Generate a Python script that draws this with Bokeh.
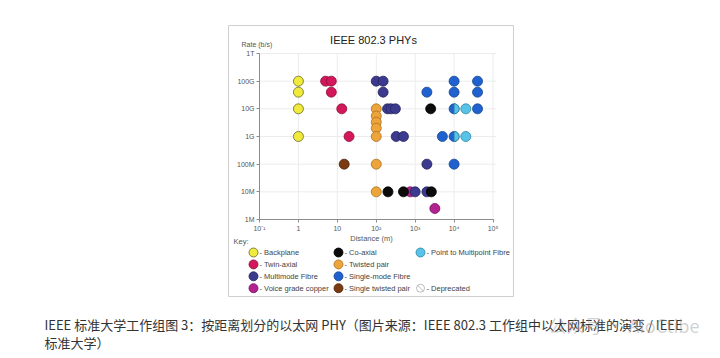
import math
from bokeh.plotting import figure
from bokeh.models import Range1d, LogScale, LogAxis, FixedTicker, Label
from bokeh.embed import file_html
from bokeh.resources import INLINE

# ---------------- data ----------------
rate_ticks = [10**6, 10**7, 10**8, 10**9, 10**10, 10**11, 10**12]
rate_labels = ["1M", "10M", "100M", "1G", "10G", "100G", "1T"]
dist_ticks = [0.1, 1, 10, 100, 1000, 10000, 100000]
dist_labels = ["10\u207b\u00b9", "1", "10", "10\u00b2", "10\u00b3", "10\u2074", "10\u2075"]

backplane_dist = [1, 1, 1, 1]
backplane_rate = [100e9, 40e9, 10e9, 1e9]

twinax_dist = [5, 7, 7, 13, 20]
twinax_rate = [100e9, 100e9, 40e9, 10e9, 1e9]

voice_dist = [750, 3200]
voice_rate = [10e6, 2.5e6]

mmf_dist = [100, 150, 150, 195, 240, 310, 325, 500, 2000, 1000, 2000]
mmf_rate = [100e9, 100e9, 40e9, 10e9, 10e9, 10e9, 1e9, 1e9, 100e6, 10e6, 10e6]

coax_dist = [2500, 200, 500, 2600]
coax_rate = [10e9, 10e6, 10e6, 10e6]

tp_dist = [100, 100, 100, 100, 100, 100, 100]
tp_rate = [10e9, 5.5e9, 3.3e9, 2e9, 1e9, 100e6, 10e6]

stp_dist = [15]
stp_rate = [100e6]

smf_dist = [10000, 40000, 2000, 10000, 40000, 10000, 40000, 5000, 10000, 10000]
smf_rate = [100e9, 100e9, 40e9, 40e9, 40e9, 10e9, 10e9, 1e9, 1e9, 100e6]

ptmp_dist = [20000, 20000]
ptmp_rate = [10e9, 1e9]
ptmp_half_dist = [10000, 10000]
ptmp_half_rate = [10e9, 1e9]

legend_col1 = ["- Backplane", "- Twin-axial", "- Multimode Fibre", "- Voice grade copper"]
legend_col2 = ["- Co-axial", "- Twisted pair", "- Single-mode Fibre", "- Single twisted pair"]
legend_col3 = ["- Point to Multipoint Fibre", "- Deprecated"]

title_text = "IEEE 802.3 PHYs"
caption_line1 = "IEEE 标准大学工作组图 3：按距离划分的以太网 PHY（图片来源：IEEE 802.3 工作组中以太网标准的演变 / IEEE"
caption_line2 = "标准大学）"

# ---------------- styles ----------------
STY = {
    "backplane": ("#efea3c", "#6b6a2a"),
    "twinax": ("#d3175a", "#8a0f3a"),
    "mmf": ("#3b3a8f", "#24235e"),
    "voice": ("#b3228f", "#721060"),
    "coax": ("#0b0b0b", "#000000"),
    "tp": ("#eda43a", "#a8711f"),
    "smf": ("#1f62cf", "#17468f"),
    "stp": ("#7b3b12", "#4a2208"),
    "ptmp": ("#58c3e6", "#2b86a6"),
}

W, H = 720, 358
FONT = "Liberation Sans"

# pixel geometry of the plot area inside the canvas
X_LEFT, X_DEC = 259.0, 38.92   # canvas x of 0.1 m, px per decade
Y_BOT, Y_DEC = 219.0, 27.667   # canvas y (from top) of 1 Mb/s, px per decade

p = figure(width=W, height=H, output_backend="svg", toolbar_location=None,
           x_range=Range1d(0, W), y_range=Range1d(H, 0),
           x_axis_type=None, y_axis_type=None, min_border=0,
           background_fill_color="white", border_fill_color="white",
           outline_line_color=None)
p.grid.visible = False

p.extra_x_ranges = {"dist": Range1d(10 ** (-1 - X_LEFT / X_DEC), 10 ** (-1 + (W - X_LEFT) / X_DEC))}
p.extra_x_scales = {"dist": LogScale()}
p.extra_y_ranges = {"rate": Range1d(10 ** (6 - (H - Y_BOT) / Y_DEC), 10 ** (6 + Y_BOT / Y_DEC))}
p.extra_y_scales = {"rate": LogScale()}

R = dict(x_range_name="dist", y_range_name="rate")

# image frame
p.quad(left=228, right=513, top=25, bottom=296, fill_color=None, line_color="#cfcfcf", line_width=1)

# grid
n = len(dist_ticks)
p.segment(x0=dist_ticks, y0=[rate_ticks[0]] * n, x1=dist_ticks, y1=[rate_ticks[-1]] * n,
          line_color="#ececec", line_width=1, **R)
m = len(rate_ticks)
p.segment(x0=[dist_ticks[0]] * m, y0=rate_ticks, x1=[dist_ticks[-1] * 1.2] * m, y1=rate_ticks,
          line_color="#ececec", line_width=1, **R)

# axes
def style_axis(ax):
    ax.axis_line_color = "#8c8c8c"
    ax.major_tick_line_color = "#8c8c8c"
    ax.major_tick_out = 3
    ax.major_tick_in = 0
    ax.minor_tick_out = 0
    ax.minor_tick_in = 0
    ax.major_label_text_font = FONT
    ax.major_label_text_font_size = "7px"
    ax.major_label_text_color = "#555555"
    ax.major_label_standoff = 2

xaxis = LogAxis(fixed_location=rate_ticks[0], bounds=(dist_ticks[0], dist_ticks[-1]),
                ticker=FixedTicker(ticks=dist_ticks),
                major_label_overrides={t: l for t, l in zip(dist_ticks, dist_labels)}, **R)
style_axis(xaxis)
p.add_layout(xaxis, "below")
yaxis = LogAxis(fixed_location=dist_ticks[0], bounds=(rate_ticks[0], rate_ticks[-1]),
                ticker=FixedTicker(ticks=rate_ticks),
                major_label_overrides={t: l for t, l in zip(rate_ticks, rate_labels)}, **R)
style_axis(yaxis)
p.add_layout(yaxis, "left")

# data points
SIZE = 10
def dots(xs, ys, key):
    fc, lc = STY[key]
    p.scatter(xs, ys, size=SIZE, fill_color=fc, line_color=lc, line_width=0.8, **R)

dots(backplane_dist, backplane_rate, "backplane")
dots(twinax_dist, twinax_rate, "twinax")
dots(voice_dist, voice_rate, "voice")
dots(mmf_dist, mmf_rate, "mmf")
dots(tp_dist, tp_rate, "tp")
dots(stp_dist, stp_rate, "stp")
dots(smf_dist, smf_rate, "smf")
dots(coax_dist, coax_rate, "coax")
dots(ptmp_dist, ptmp_rate, "ptmp")
fc, lc = STY["ptmp"]
p.wedge(ptmp_half_dist, ptmp_half_rate, radius=SIZE / 2, radius_units="screen",
        start_angle=-math.pi / 2, end_angle=math.pi / 2,
        fill_color=fc, line_color=lc, line_width=0.8, **R)

# texts
def label(x, y, text, size="7px", color="#444444", align="left", font=FONT, alpha=1.0):
    p.add_layout(Label(x=x, y=y, text=text, text_font=font, text_font_size=size,
                       text_color=color, text_align=align, text_baseline="middle",
                       text_alpha=alpha))

label(373, 39, title_text, size="11px", color="#222222", align="center")
label(241, 44, "Rate (b/s)", size="7px", color="#555555")
label(371, 238, "Distance (m)", size="7.5px", color="#555555", align="center")
label(233, 241, "Key:", size="7.5px", color="#555555")

# legend
ROW0, DY = 252.0, 11.9
COLS = [253, 338, 420]
col1_keys = ["backplane", "twinax", "mmf", "voice"]
col2_keys = ["coax", "tp", "smf", "stp"]
for ci, (names, keys) in enumerate([(legend_col1, col1_keys), (legend_col2, col2_keys)]):
    xs = [COLS[ci]] * len(names)
    ys = [ROW0 + i * DY for i in range(len(names))]
    p.scatter(xs, ys, size=9, fill_color=[STY[k][0] for k in keys],
              line_color=[STY[k][1] for k in keys], line_width=0.8)
    for y, t in zip(ys, names):
        label(COLS[ci] + 6, y, t, size="7.5px", color="#444444")
# col 3
p.scatter([COLS[2]], [ROW0], size=9, fill_color=STY["ptmp"][0], line_color=STY["ptmp"][1], line_width=0.8)
label(COLS[2] + 6, ROW0, legend_col3[0], size="7.5px", color="#444444")
p.scatter([COLS[2]], [ROW0 + 3 * DY], size=8, fill_color=None, line_color="#bdbdbd", line_width=1)
p.scatter([COLS[2]], [ROW0 + 3 * DY], marker="dash", size=8, angle=-math.pi / 4,
          line_color="#bdbdbd", line_width=1)
label(COLS[2] + 6, ROW0 + 3 * DY, legend_col3[1], size="7.5px", color="#444444")

# caption
label(44, 324, caption_line1, size="13px", color="#333333", font="Noto Sans CJK SC")
label(44, 342, caption_line2, size="13px", color="#333333", font="Noto Sans CJK SC")
label(548, 324, "公众号 · AIoCtibe", size="18px", color="#9a9a9a", font="Noto Sans CJK SC", alpha=0.45)

open("out.html", "w").write(file_html(p, INLINE))
